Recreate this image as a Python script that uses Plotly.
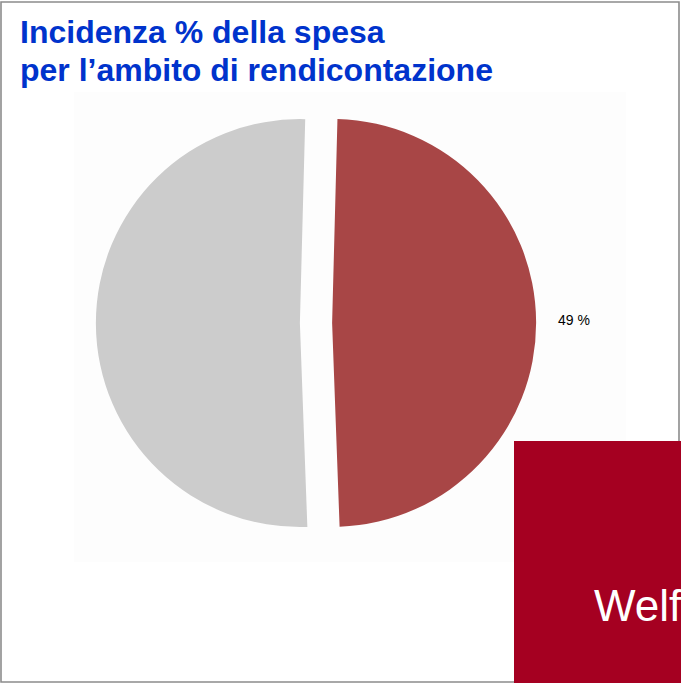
import plotly.graph_objects as go

# Data
labels = ["Altro", "Ambito di rendicontazione"]
values = [51, 49]
colors = ["#CCCCCC", "#A84646"]
title_lines = ["Incidenza % della spesa", "per l\u2019ambito di rendicontazione"]
banner_text = "Welf"

W, H = 681, 683

def px(x):
    return x / W

def py(y):
    return 1 - y / H

fig = go.Figure()

# pie: centre ~(316, 322), radius ~203, pull ~0.079
pull = 0.079
r = 204
half = r * (1 + pull)
cx, cy = 316, 323
fig.add_trace(go.Pie(
    labels=labels[::-1],
    values=values[::-1],
    marker=dict(colors=colors[::-1], line=dict(width=0)),
    pull=[pull, pull],
    sort=False,
    direction="clockwise",
    rotation=1.5,
    textinfo="none",
    hoverinfo="label+percent",
    showlegend=False,
    domain=dict(x=[px(cx - half), px(cx + half)], y=[py(cy + half), py(cy - half)]),
))

shapes = [
    # faint chart background
    dict(type="rect", xref="paper", yref="paper", x0=px(74), x1=px(626), y0=py(562), y1=py(92),
         fillcolor="#FDFDFD", line=dict(width=0), layer="below"),
    # outer border
    dict(type="rect", xref="paper", yref="paper", x0=px(1), x1=px(679), y0=py(682), y1=py(2),
         line=dict(color="#8C8C8C", width=1.6), fillcolor="rgba(0,0,0,0)"),
    # red banner
    dict(type="rect", xref="paper", yref="paper", x0=px(514), x1=1.01, y0=-0.01, y1=py(441),
         fillcolor="#A50021", line=dict(width=0), layer="above"),
]

title_font = dict(family="Liberation Sans, Arial, sans-serif", size=32, color="#0033CC", weight="bold")
annotations = [
    dict(text=title_lines[0], x=px(18), y=py(32), xref="paper", yref="paper",
         xanchor="left", yanchor="middle", showarrow=False, font=title_font),
    dict(text=title_lines[1], x=px(18), y=py(70), xref="paper", yref="paper",
         xanchor="left", yanchor="middle", showarrow=False, font=title_font),
    dict(text=f"{values[1]} %", x=px(574), y=py(320), xref="paper", yref="paper",
         xanchor="center", yanchor="middle", showarrow=False,
         font=dict(family="Liberation Sans, Arial, sans-serif", size=14, color="#000000")),
    dict(text=banner_text, x=px(592), y=py(605), xref="paper", yref="paper",
         xanchor="left", yanchor="middle", showarrow=False,
         font=dict(family="Liberation Sans, Arial, sans-serif", size=44, color="#FFFFFF")),
]

fig.update_layout(
    width=W, height=H,
    margin=dict(l=0, r=0, t=0, b=0),
    paper_bgcolor="#FFFFFF",
    plot_bgcolor="#FFFFFF",
    shapes=shapes,
    annotations=annotations,
)

fig.write_html("out.html",
               config={"displayModeBar": False},
               post_script="document.body.style.margin='0';document.body.style.padding='0';"
                           "document.documentElement.style.overflow='hidden';")
